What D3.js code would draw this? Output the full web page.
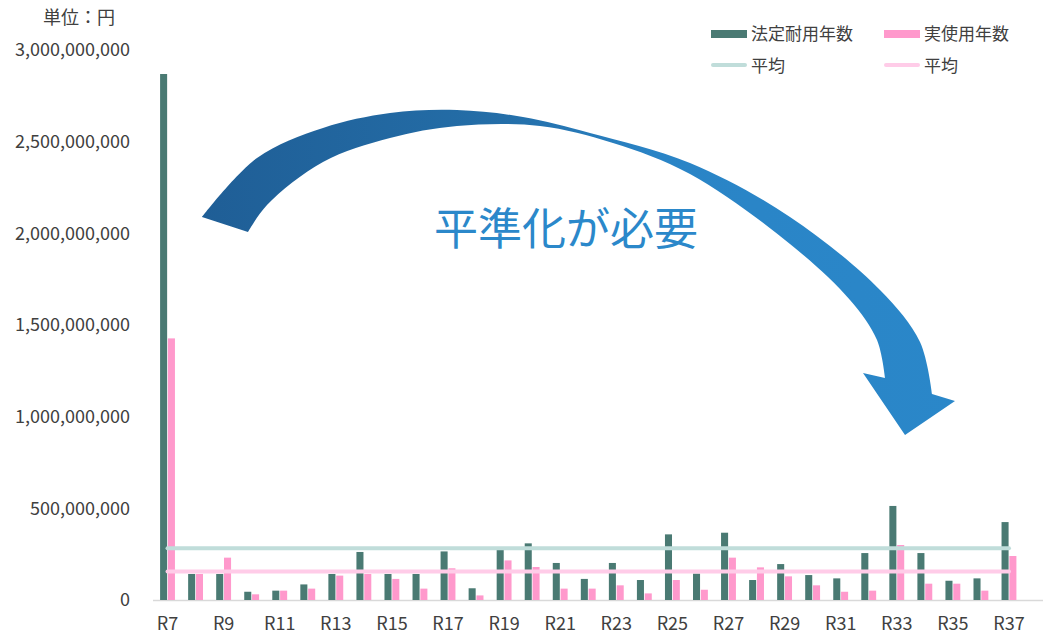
<!DOCTYPE html>
<html><head><meta charset="utf-8">
<script src="https://cdn.jsdelivr.net/npm/d3@7"></script>
<style>body{margin:0;background:#fff}svg{display:block}</style>
</head><body>
<script>
const categories = ["R7","R8","R9","R10","R11","R12","R13","R14","R15","R16","R17","R18","R19","R20","R21","R22","R23","R24","R25","R26","R27","R28","R29","R30","R31","R32","R33","R34","R35","R36","R37"];
const legalLife = [2869,142,142,45,51,85,142,262,142,142,265,64,273,309,202,115,202,109,358,144,367,109,196,136,118,256,513,256,105,118,425].map(v=>v*1e6);
const actualLife = [1427,142,231,31,51,62,133,142,115,62,173,25,216,180,62,62,80,36,109,56,231,178,129,80,45,51,300,89,89,51,240].map(v=>v*1e6);
const avgLegal = 282e6;
const avgActual = 156e6;
const yTicks = [0,500e6,1000e6,1500e6,2000e6,2500e6,3000e6];
const xTickLabels = ["R7","R9","R11","R13","R15","R17","R19","R21","R23","R25","R27","R29","R31","R33","R35","R37"];
const seriesNames = ["法定耐用年数","実使用年数"];
const avgNames = ["平均","平均"];
const unitLabel = "単位：円";
const calloutText = "平準化が必要";

const W=1043,H=637;
const FONT = "'Noto Sans CJK JP','Noto Sans',sans-serif";
const GREEN="#4A7A73", PINK="#FF99CC", GREEN_AVG="#C0DDDA", PINK_AVG="#FFCCE8";
const svg=d3.select("body").append("svg").attr("width",W).attr("height",H).style("font-family",FONT);

const y=d3.scaleLinear().domain([0,3000e6]).range([600,50]);
const x=d3.scaleBand().domain(categories).range([153.5,1023]).paddingInner(0.47).paddingOuter(0.235);
const x1=d3.scaleBand().domain(["g","p"]).range([0,x.bandwidth()]).paddingInner(0.1);

// y axis labels
const yAxis=d3.axisLeft(y).tickValues(yTicks).tickSize(0).tickPadding(0).tickFormat(d3.format(","));
const gy=svg.append("g").attr("transform","translate(130,0)").call(yAxis);
gy.select(".domain").remove();
gy.selectAll("text").attr("font-size",18).attr("fill","#404040").attr("font-family",FONT);

// x axis
const xAxis=d3.axisBottom(x).tickSize(0).tickPadding(0).tickFormat(d=>xTickLabels.includes(d)?d:"");
const gx=svg.append("g").attr("transform","translate(0,600)").call(xAxis);
gx.select(".domain").remove();
gx.selectAll("text").attr("font-size",18).attr("fill","#404040").attr("font-family",FONT).attr("dy","0").attr("y",30);
svg.append("line").attr("x1",153).attr("x2",1043).attr("y1",600.5).attr("y2",600.5).attr("stroke","#D9D9D9").attr("stroke-width",1.5);

// bars
const gb=svg.append("g");
gb.selectAll("rect.g").data(categories).join("rect").attr("class","g")
  .attr("x",(d)=>x(d)+x1("g")).attr("width",x1.bandwidth())
  .attr("y",(d,i)=>y(legalLife[i])).attr("height",(d,i)=>y(0)-y(legalLife[i])).attr("fill",GREEN);
gb.selectAll("rect.p").data(categories).join("rect").attr("class","p")
  .attr("x",(d)=>x(d)+x1("p")).attr("width",x1.bandwidth())
  .attr("y",(d,i)=>y(actualLife[i])).attr("height",(d,i)=>y(0)-y(actualLife[i])).attr("fill",PINK);

// average lines
const cx=d=>x(d)+x.bandwidth()/2;
const ends=[categories[0],categories[categories.length-1]];
const ln=d3.line().x(d=>cx(d[0])).y(d=>y(d[1]));
svg.append("path").attr("d",ln(ends.map(c=>[c,avgLegal]))).attr("stroke",GREEN_AVG).attr("stroke-width",4).attr("stroke-linecap","round").attr("fill","none");
svg.append("path").attr("d",ln(ends.map(c=>[c,avgActual]))).attr("stroke",PINK_AVG).attr("stroke-width",4).attr("stroke-linecap","round").attr("fill","none");

// unit label
svg.append("text").attr("x",43).attr("y",24).attr("font-size",18).attr("fill","#404040").text(unitLabel);

// legend
const lg=svg.append("g").attr("font-size",17).attr("fill","#404040");
const legX=[711,884];
[GREEN,PINK].forEach((c,i)=>{
  lg.append("rect").attr("x",legX[i]).attr("y",30).attr("width",36).attr("height",8).attr("fill",c);
  lg.append("text").attr("x",legX[i]+40).attr("y",40).text(seriesNames[i]);
});
[GREEN_AVG,PINK_AVG].forEach((c,i)=>{
  lg.append("line").attr("x1",legX[i]+2).attr("x2",legX[i]+34).attr("y1",65).attr("y2",65).attr("stroke",c).attr("stroke-width",4).attr("stroke-linecap","round");
  lg.append("text").attr("x",legX[i]+40).attr("y",72).text(avgNames[i]);
});

// curved arrow annotation
const defs=svg.append("defs");
const grad=defs.append("linearGradient").attr("id","ag").attr("gradientUnits","userSpaceOnUse").attr("x1",200).attr("y1",0).attr("x2",960).attr("y2",0);
grad.append("stop").attr("offset",0).attr("stop-color","#1F5E96");
grad.append("stop").attr("offset",0.4).attr("stop-color","#246EA8");
grad.append("stop").attr("offset",0.6).attr("stop-color","#2A84C6");
grad.append("stop").attr("offset",1).attr("stop-color","#2A87C9");
const outer=[[202,217],[257,158],[323,128],[390,113],[457,110],[523,117],[590,133],[690,163],[790,217],[880,290],[920,342],[932,394]];
const head=[[955,401],[905,435],[863,373],[885,378]];
const inner=[[885,378],[877,340],[850,300],[790,244],[690,174],[613,143],[540,126],[457,126],[390,138],[323,162],[267,205],[248,232]];
const cl=d3.line().curve(d3.curveCatmullRom.alpha(0.5));
const dPath=cl(outer)+head.map(p=>"L"+p[0]+","+p[1]).join("")+cl(inner).replace(/^M/,"L")+"Z";
svg.append("path").attr("d",dPath).attr("fill","url(#ag)");

svg.append("text").attr("x",434).attr("y",245).attr("font-size",44).attr("fill","#2B88CA").attr("font-weight",400).text(calloutText);
</script>
</body></html>
